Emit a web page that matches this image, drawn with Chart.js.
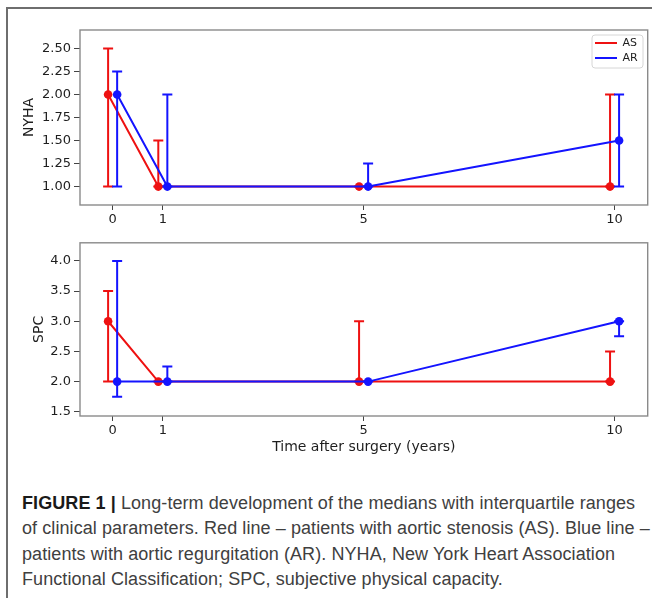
<!DOCTYPE html>
<html>
<head>
<meta charset="utf-8">
<script src="https://cdn.jsdelivr.net/npm/chart.js@4.4.1/dist/chart.umd.min.js"></script>
<style>
  html, body { margin: 0; padding: 0; background: #fff; }
  body { width: 652px; height: 598px; position: relative; overflow: hidden; }
  #frame { position: absolute; left: 6px; top: 7px; width: 700px; height: 700px;
           border-top: 2px solid #6e6e6e; border-left: 2px solid #6e6e6e; }
  #c1 { position: absolute; left: 0; top: 0; }
  #c2 { position: absolute; left: 0; top: 232px; }
  #caption { position: absolute; left: 22px; top: 491px; white-space: nowrap;
             font-family: "Liberation Sans", Arial, sans-serif; font-size: 18px;
             letter-spacing: 0.08px; line-height: 25.3px; color: #404040; }
  #caption b { color: #1a1a1a; }
</style>
</head>
<body>
<div id="frame"></div>
<canvas id="c1" width="652" height="232"></canvas>
<canvas id="c2" width="652" height="236"></canvas>
<div id="caption"><b>FIGURE 1 |</b> Long-term development of the medians with interquartile ranges<br>of clinical parameters. Red line – patients with aortic stenosis (AS). Blue line –<br>patients with aortic regurgitation (AR). NYHA, New York Heart Association<br>Functional Classification; SPC, subjective physical capacity.</div>
<script>
// ---- data ----
const years = [0, 1, 5, 10];
const xTickLabels = ['0', '1', '5', '10'];
const seriesNames = ['AS', 'AR'];

const nyhaAS     = [2.0, 1.0, 1.0, 1.0];
const nyhaASLow  = [1.0, 1.0, 1.0, 1.0];
const nyhaASHigh = [2.5, 1.5, 1.0, 2.0];
const nyhaAR     = [2.0, 1.0, 1.0, 1.5];
const nyhaARLow  = [1.0, 1.0, 1.0, 1.0];
const nyhaARHigh = [2.25, 2.0, 1.25, 2.0];

const spcAS     = [3.0, 2.0, 2.0, 2.0];
const spcASLow  = [2.0, 2.0, 2.0, 2.0];
const spcASHigh = [3.5, 2.0, 3.0, 2.5];
const spcAR     = [2.0, 2.0, 2.0, 3.0];
const spcARLow  = [1.75, 2.0, 2.0, 2.75];
const spcARHigh = [4.0, 2.25, 2.0, 3.0];

const nyhaTickLabels = ['1.00', '1.25', '1.50', '1.75', '2.00', '2.25', '2.50'];
const spcTickLabels  = ['1.5', '2.0', '2.5', '3.0', '3.5', '4.0'];

const nyhaTitle = 'NYHA';
const spcTitle = 'SPC';
const xTitle = 'Time after surgery (years)';

// ---- styles ----
const RED = '#ee1111';
const BLUE = '#1414ff';
const DODGE = 0.09;
const FONT = 'DejaVu Sans';
const TXT = '#1e1e1e';

function pts(vals, shift) {
  return vals.map((v, i) => ({ x: years[i] + shift, y: v }));
}
function ds(label, vals, lo, hi, color, shift, order) {
  return {
    label, data: pts(vals, shift), errLo: lo, errHi: hi,
    showLine: true, borderColor: color, backgroundColor: color,
    pointBorderColor: color, pointBackgroundColor: color,
    borderWidth: 2, pointRadius: 4.3, pointHoverRadius: 4.3,
    pointBorderWidth: 0, tension: 0, order
  };
}

const errorBars = {
  id: 'errorBars',
  beforeDatasetDraw(chart, args) {
    const d = chart.data.datasets[args.index];
    if (!d.errLo) return;
    const { ctx, scales: { x, y } } = chart;
    ctx.save();
    ctx.strokeStyle = d.borderColor;
    ctx.lineWidth = 2;
    d.data.forEach((p, i) => {
      const px = x.getPixelForValue(p.x);
      const y1 = y.getPixelForValue(d.errLo[i]);
      const y2 = y.getPixelForValue(d.errHi[i]);
      ctx.beginPath();
      ctx.moveTo(px, y1); ctx.lineTo(px, y2);
      ctx.moveTo(px - 5, y1); ctx.lineTo(px + 5, y1);
      ctx.moveTo(px - 5, y2); ctx.lineTo(px + 5, y2);
      ctx.stroke();
    });
    ctx.restore();
  }
};

const spines = {
  id: 'spines',
  beforeDatasetsDraw(chart) {
    const { ctx, chartArea: a } = chart;
    ctx.save();
    ctx.strokeStyle = '#8a8a8a';
    ctx.lineWidth = 1.4;
    ctx.strokeRect(a.left, a.top, a.right - a.left, a.bottom - a.top);
    ctx.restore();
  }
};

const legendPlace = {
  id: 'legendPlace',
  afterLayout(chart) {
    const lg = chart.legend;
    if (!lg || !lg.options.display) return;
    lg.left = 591; lg.top = 33.5;
    lg.right = lg.left + lg.width; lg.bottom = lg.top + lg.height;
  },
  beforeDraw(chart) {
    const lg = chart.legend;
    if (!lg || !lg.options.display) return;
    const { ctx } = chart;
    const fx = lg.left + 1, fy = lg.top + 1.5, fw = 51, fh = 33, r = 3;
    ctx.save();
    ctx.fillStyle = '#fff';
    ctx.strokeStyle = '#d6d6d6';
    ctx.lineWidth = 1;
    ctx.beginPath();
    ctx.roundRect(fx, fy, fw, fh, r);
    ctx.fill(); ctx.stroke();
    ctx.restore();
  }
};

function makeChart(id, datasets, opts) {
  return new Chart(document.getElementById(id), {
    type: 'scatter',
    data: { datasets },
    plugins: [errorBars, spines, legendPlace],
    options: {
      responsive: false, animation: false, devicePixelRatio: 1,
      layout: { padding: opts.padding },
      plugins: {
        tooltip: { enabled: false },
        legend: opts.legend ? {
          display: true, position: 'chartArea', align: 'start',
          labels: {
            usePointStyle: true, pointStyle: 'line', pointStyleWidth: 22,
            boxHeight: 11, padding: 4, color: TXT,
            font: { family: FONT, size: 11 },
            sort: (a, b) => a.datasetIndex - b.datasetIndex,
            generateLabels: c => Chart.defaults.plugins.legend.labels.generateLabels(c)
              .map(l => Object.assign(l, {
                lineWidth: 2,
                strokeStyle: c.data.datasets[l.datasetIndex].borderColor
              }))
          }
        } : { display: false }
      },
      scales: {
        x: {
          type: 'linear', min: -0.65, max: 10.66,
          afterBuildTicks: s => { s.ticks = years.map(v => ({ value: v })); },
          afterFit: s => { s.height = opts.xHeight; },
          grid: { drawOnChartArea: false, drawTicks: true, tickLength: 5, color: '#444', lineWidth: 1 },
          border: { display: false },
          ticks: { autoSkip: false, maxRotation: 0, padding: 2, color: TXT,
                   font: { family: FONT, size: 13 },
                   callback: v => xTickLabels[years.indexOf(v)] },
          title: opts.xTitle ? { display: true, text: opts.xTitle, color: TXT,
                   font: { family: FONT, size: 14 }, padding: { top: 0, bottom: opts.xTitlePad } }
                 : { display: false }
        },
        y: {
          type: 'linear', min: opts.yMin, max: opts.yMax,
          afterBuildTicks: s => { s.ticks = opts.yTicks.map(t => ({ value: Number(t) })); },
          afterFit: s => { s.width = 80; },
          grid: { drawOnChartArea: false, drawTicks: true, tickLength: 6, color: '#444', lineWidth: 1 },
          border: { display: false },
          ticks: { autoSkip: false, padding: 3, color: TXT,
                   font: { family: FONT, size: 13 },
                   callback: v => opts.yTicks[opts.yTicks.map(Number).indexOf(v)] },
          title: { display: true, text: opts.yTitle, color: TXT,
                   font: { family: FONT, size: 14 }, padding: { top: opts.yTitlePad, bottom: 0 } }
        }
      }
    }
  });
}

makeChart('c1', [
  ds(seriesNames[0], nyhaAS, nyhaASLow, nyhaASHigh, RED, -DODGE, 1),
  ds(seriesNames[1], nyhaAR, nyhaARLow, nyhaARHigh, BLUE, DODGE, 0)
], {
  padding: { top: 30, right: 4, left: 0, bottom: 0 },
  xHeight: 27, yMin: 0.80, yMax: 2.70, yTicks: nyhaTickLabels,
  yTitle: nyhaTitle, yTitlePad: 21, legend: true
});

makeChart('c2', [
  ds(seriesNames[0], spcAS, spcASLow, spcASHigh, RED, -DODGE, 1),
  ds(seriesNames[1], spcAR, spcARLow, spcARHigh, BLUE, DODGE, 0)
], {
  padding: { top: 9, right: 4, left: 0, bottom: 0 },
  xHeight: 52, yMin: 1.43, yMax: 4.30, yTicks: spcTickLabels,
  yTitle: spcTitle, yTitlePad: 31, legend: false,
  xTitle: xTitle, xTitlePad: 12
});
</script>
</body>
</html>
